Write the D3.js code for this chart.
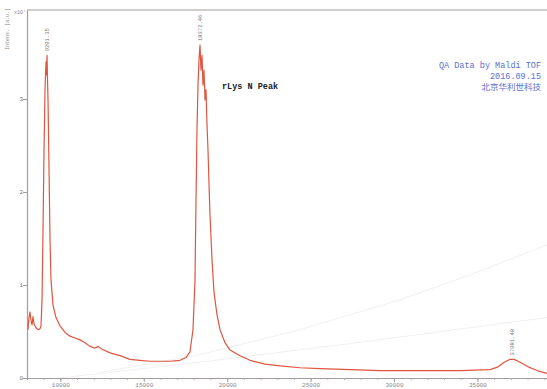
<!DOCTYPE html>
<html>
<head>
<meta charset="utf-8">
<script src="https://cdn.jsdelivr.net/npm/d3@7"></script>
<style>
  body { margin: 0; background: #fff; }
  svg { display: block; }
</style>
</head>
<body>
<div id="chart"></div>
<script>
// canvas size and plot frame
const width = 547;
const height = 389;
const margin = {left: 27, right: 0, top: 10, bottom: 11};

// spectrum, m/z vs intensity (x10^4 a.u.)
const mz = [8060, 8120, 8180, 8240, 8300, 8360, 8420, 8540, 8660, 8780, 8840, 8900, 8960, 9020, 9080, 9140, 9170, 9200, 9230, 9260,
  9320, 9380, 9440, 9560, 9740, 9980, 10280, 10580, 10880, 11180, 11480, 11780, 12080, 12260, 12500, 12980, 13580, 14170, 14770, 15370,
  15970, 16570, 17170, 17530, 17770, 17950, 18070, 18130, 18190, 18250, 18310, 18370, 18430, 18490, 18550, 18610, 18670, 18730, 18790, 18850,
  18910, 18970, 19090, 19210, 19390, 19570, 19870, 20170, 20770, 21370, 22270, 23170, 24370, 25570, 27370, 29160, 31560, 33960, 35760, 36240,
  36600, 36960, 37200, 37560, 38040, 38580, 39170];
const intensity = [0.52, 0.65, 0.71, 0.62, 0.57, 0.66, 0.58, 0.54, 0.52, 0.53, 0.56, 0.84, 1.59, 2.45, 3.10, 3.40, 3.26, 3.47, 3.20, 2.99,
  2.24, 1.48, 1.05, 0.78, 0.65, 0.56, 0.49, 0.45, 0.43, 0.41, 0.38, 0.34, 0.32, 0.34, 0.31, 0.27, 0.24, 0.20, 0.19, 0.18,
  0.18, 0.18, 0.19, 0.22, 0.28, 0.52, 1.05, 1.91, 2.67, 3.15, 3.42, 3.58, 3.31, 3.47, 3.15, 3.31, 2.99, 3.10, 2.72, 2.45,
  2.08, 1.75, 1.27, 0.92, 0.68, 0.52, 0.38, 0.30, 0.24, 0.19, 0.15, 0.13, 0.11, 0.10, 0.09, 0.08, 0.08, 0.08, 0.09, 0.12,
  0.17, 0.20, 0.20, 0.17, 0.12, 0.08, 0.05];

// labelled peaks
const peakMz = [9200, 18370, 37080];
const peakInt = [3.47, 3.58, 0.20];
const peakLabels = ["9201.35", "18372.46", "37081.48"];

// faint background lines seen on the scan
const faintMz1 = [12380, 18370, 24370, 30360, 34560, 39170];
const faintInt1 = [0.06, 0.25, 0.52, 0.84, 1.11, 1.43];
const faintMz2 = [9980, 18370, 27370, 39170];
const faintInt2 = [0.0, 0.17, 0.37, 0.65];

// axes ticks
const xTicks = [10000, 15000, 20000, 25000, 30000, 35000];
const yTicks = [0, 1, 2, 3];
const noteLines = ["QA Data by Maldi TOF", "2016.09.15", "北京华利世科技"];

const svg = d3.select("#chart")
  .append("svg")
  .attr("width", width)
  .attr("height", height);

const xScale = d3.scaleLinear()
  .domain([8000, 39170])
  .range([margin.left, width - margin.right]);

const yScale = d3.scaleLinear()
  .domain([0, 3.957])
  .range([height - margin.bottom, margin.top]);

const line = d3.line()
  .x(d => xScale(d[0]))
  .y(d => yScale(d[1]));

// faint lines
[[faintMz1, faintInt1], [faintMz2, faintInt2]].forEach(s => {
  svg.append("path")
    .datum(s[0].map((m, i) => [m, s[1][i]]))
    .attr("fill", "none")
    .attr("stroke", "#ececec")
    .attr("stroke-width", 0.8)
    .attr("d", line);
});

// frame top line
svg.append("line")
  .attr("x1", margin.left).attr("x2", width)
  .attr("y1", margin.top).attr("y2", margin.top)
  .attr("stroke", "#a39c9c").attr("stroke-width", 1.2);

// y axis
const yAxis = svg.append("g")
  .attr("transform", `translate(${margin.left},0)`)
  .call(d3.axisLeft(yScale).tickValues(yTicks).tickSize(4).tickSizeOuter(0).tickFormat(d3.format("d")));
yAxis.select(".domain").attr("stroke", "#a39c9c").attr("stroke-width", 1.2);
yAxis.selectAll(".tick line").attr("stroke", "#a39c9c");
yAxis.selectAll(".tick text").attr("fill", "#777").attr("font-size", "6px")
  .attr("font-family", "Liberation Mono").attr("x", -4);

// x axis, minor ticks every 1000
const xAxisMinor = svg.append("g")
  .attr("transform", `translate(0,${height - margin.bottom})`)
  .call(d3.axisBottom(xScale).tickValues(d3.range(9000, 39001, 1000)).tickSize(2).tickFormat(""));
xAxisMinor.select(".domain").attr("stroke", "#a39c9c").attr("stroke-width", 1.2);
xAxisMinor.selectAll(".tick line").attr("stroke", "#b5aeae");

const xAxis = svg.append("g")
  .attr("transform", `translate(0,${height - margin.bottom})`)
  .call(d3.axisBottom(xScale).tickValues(xTicks).tickSize(4).tickSizeOuter(0).tickFormat(d3.format("d")));
xAxis.select(".domain").remove();
xAxis.selectAll(".tick line").attr("stroke", "#a39c9c");
xAxis.selectAll(".tick text").attr("fill", "#888").attr("font-size", "6px")
  .attr("font-family", "Liberation Mono").attr("dy", "0.4em");

// axis titles
svg.append("text")
  .attr("transform", "translate(9,8) rotate(-90)")
  .attr("text-anchor", "end")
  .attr("font-size", "5px")
  .attr("font-family", "Liberation Mono")
  .attr("fill", "#888")
  .text("Intens. [a.u.]");
svg.append("text")
  .attr("x", 14).attr("y", 14)
  .attr("font-size", "5px")
  .attr("font-family", "Liberation Mono")
  .attr("fill", "#888")
  .text("x10⁴");

// spectrum
svg.append("path")
  .datum(mz.map((m, i) => [m, intensity[i]]))
  .attr("fill", "none")
  .attr("stroke", "#e0553f")
  .attr("stroke-width", 1.2)
  .attr("stroke-linejoin", "round")
  .attr("d", line);

// peak labels, rotated
svg.selectAll(".peak-label")
  .data(peakMz)
  .enter()
  .append("text")
  .attr("class", "peak-label")
  .attr("transform", (d, i) => `translate(${xScale(d) + 2},${yScale(peakInt[i]) - 4}) rotate(-90)`)
  .attr("font-size", "5.5px")
  .attr("font-family", "Liberation Mono")
  .attr("fill", "#777")
  .text((d, i) => peakLabels[i]);

// annotations
svg.append("text")
  .attr("x", 222).attr("y", 89)
  .attr("font-size", "8.5px")
  .attr("font-weight", "bold")
  .attr("font-family", "Liberation Mono")
  .attr("fill", "#222")
  .text("rLys N Peak");

svg.selectAll(".note")
  .data(noteLines)
  .enter()
  .append("text")
  .attr("class", "note")
  .attr("x", 541)
  .attr("y", (d, i) => 68 + i * 11)
  .attr("text-anchor", "end")
  .attr("font-size", "8.5px")
  .attr("font-family", "Liberation Mono, Noto Sans CJK SC")
  .attr("fill", "#5b6fd3")
  .text(d => d);
</script>
</body>
</html>
